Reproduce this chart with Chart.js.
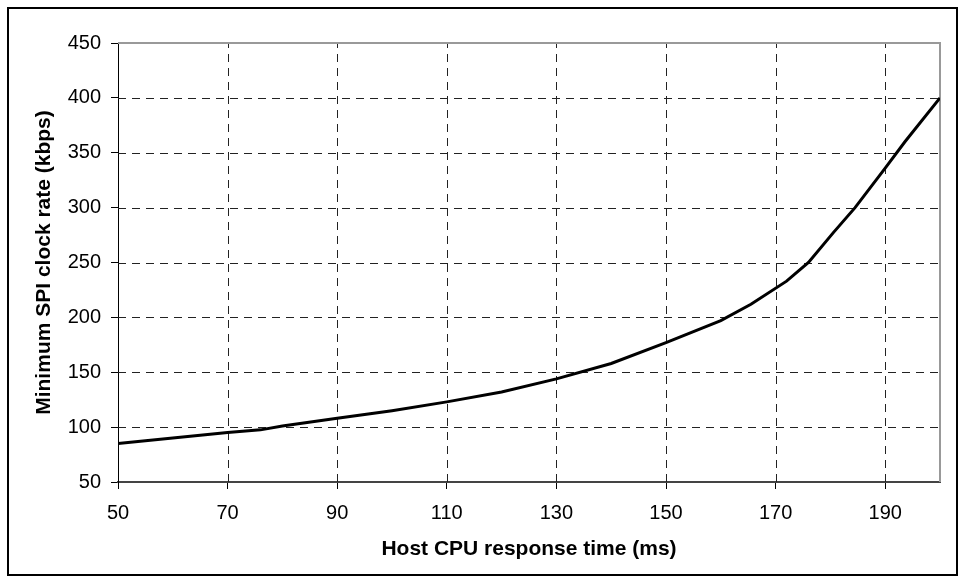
<!DOCTYPE html>
<html>
<head>
<meta charset="utf-8">
<script src="https://cdn.jsdelivr.net/npm/chart.js@4"></script>
<style>
  html, body { margin: 0; padding: 0; background: #fff; }
  #wrap { width: 965px; height: 583px; position: relative; }
</style>
</head>
<body>
<div id="wrap"><canvas id="chart"></canvas></div>
<script>
// response time (ms) and minimum SPI clock rate (kbps)
const responseTimes = [50, 60, 70, 76, 80, 90, 100, 110, 120, 130, 140, 150, 160, 165.5, 172, 176, 180.5, 184.5, 190, 193.6, 200];
const clockRates    = [85, 90, 95, 97.5, 101, 108, 115, 123, 132, 144, 158, 177, 197, 212, 233, 250, 277, 300, 336, 360, 400];
const xTicks = [50, 70, 90, 110, 130, 150, 170, 190];
const yTicks = [50, 100, 150, 200, 250, 300, 350, 400, 450];

(function(){
    const font = { family: '"Liberation Sans", Arial, sans-serif', size: 20 };
    const titleFont = { family: '"Liberation Sans", Arial, sans-serif', size: 21, weight: 'bold' };

    // dashed grid, plot frame and outer border
    const framePlugin = {
        id: 'frame',
        beforeDatasetsDraw(chart){
            const ctx = chart.ctx, a = chart.chartArea;
            const xs = chart.scales.x, ys = chart.scales.y;
            ctx.save();
            ctx.strokeStyle = '#222';
            ctx.lineWidth = 1;
            ctx.setLineDash([8, 6]);
            xTicks.slice(1).forEach(v => {
                const px = Math.round(xs.getPixelForValue(v)) + 0.5;
                ctx.beginPath(); ctx.moveTo(px, a.bottom); ctx.lineTo(px, a.top); ctx.stroke();
            });
            yTicks.slice(1, -1).forEach(v => {
                const py = Math.round(ys.getPixelForValue(v)) + 0.5;
                ctx.beginPath(); ctx.moveTo(a.left, py); ctx.lineTo(a.right, py); ctx.stroke();
            });
            ctx.setLineDash([]);
            // top & right frame in grey
            ctx.strokeStyle = '#999';
            ctx.lineWidth = 2;
            ctx.beginPath();
            ctx.moveTo(a.left, a.top); ctx.lineTo(a.right, a.top); ctx.lineTo(a.right, a.bottom);
            ctx.stroke();
            ctx.restore();
        },
        afterDraw(chart){
            const ctx = chart.ctx;
            ctx.save();
            ctx.strokeStyle = '#000';
            ctx.lineWidth = 2;
            ctx.strokeRect(8, 8, chart.width - 16, chart.height - 16);
            ctx.restore();
        }
    };

    new Chart(document.getElementById('chart'), {
        type: 'line',
        data: {
            datasets: [{
                data: responseTimes.map((x, i) => ({ x, y: clockRates[i] })),
                borderColor: '#000',
                borderWidth: 3,
                pointRadius: 0,
                tension: 0,
                fill: false
            }]
        },
        options: {
            responsive: true,
            maintainAspectRatio: false,
            animation: false,
            layout: { padding: { top: 43, right: 25, left: 0, bottom: 0 } },
            plugins: { legend: { display: false }, tooltip: { enabled: false } },
            scales: {
                x: {
                    type: 'linear', min: 50, max: 200,
                    afterBuildTicks: s => { s.ticks = xTicks.map(v => ({ value: v })); },
                    afterFit: s => { s.height = 101; },
                    grid: { drawOnChartArea: false, tickLength: 7, tickColor: '#000' },
                    border: { color: '#444', width: 2 },
                    ticks: { color: '#000', font, padding: 12, maxRotation: 0 },
                    title: { display: true, text: 'Host CPU response time (ms)', color: '#000', font: titleFont, padding: { top: 4, bottom: 21 } }
                },
                y: {
                    min: 50, max: 450,
                    afterBuildTicks: s => { s.ticks = yTicks.map(v => ({ value: v })); },
                    afterFit: s => { s.width = 118; },
                    grid: { drawOnChartArea: false, tickLength: 7, tickColor: '#000' },
                    border: { color: '#000', width: 1 },
                    ticks: { color: '#000', font, padding: 10 },
                    title: { display: true, text: 'Minimum SPI clock rate (kbps)', color: '#000', font: titleFont, padding: { top: 32, bottom: 0 } }
                }
            }
        },
        plugins: [framePlugin]
    });
})();
</script>
</body>
</html>
